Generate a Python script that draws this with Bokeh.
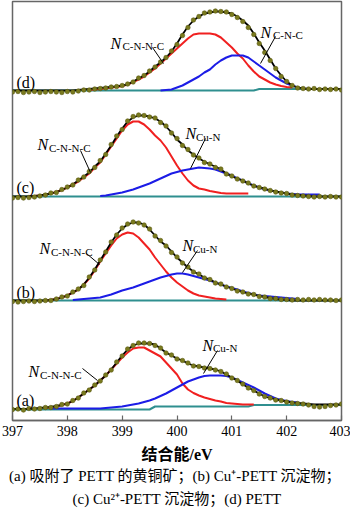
import numpy as np
from bokeh.plotting import figure
from bokeh.models import Label, Range1d, FixedTicker, ColumnDataSource, Title
from bokeh.embed import file_html
from bokeh.resources import INLINE

nan = np.nan

# ---------------- data (binding energy grid, eV) ----------------
energy = [round(397.0 + 0.1 * i, 1) for i in range(61)]
x_ticks = [397, 398, 399, 400, 401, 402, 403]

# intensities (arbitrary units) above each panel's baseline
# panel (d) PETT
dots_d = [-1.5, -1, -2, -1.5, -1, -2, -1.5, -1, -1.5, -2,
          -1, -1.5, -0.5, 0.5, 0.5, 1.5, 2, 2.5, 3.5, 4,
          5, 6.5, 8.5, 12.5, 15, 19.5, 23.5, 28.5, 33, 39.5,
          46, 55, 63, 70.5, 74, 77.5, 78.5, 79.5, 79, 78.5,
          76, 73, 69, 63, 56, 47, 38, 30, 22, 14,
          9, 5, 2.5, 2, 1.5, 2, 1, 1.5, 1, 1.5, 0.5]
fit_d = [0, 0, 0, 0, 0, 0, 0, 0, 0, 0,
         0, 0, 0.5, 1, 1.5, 2, 2.5, 3, 3.5, 4,
         5, 6, 9, 12, 15, 19, 24, 28, 33, 39,
         47, 56, 64, 70, 74, 77, 78, 79, 79, 78,
         77, 74, 70, 65, 57, 48, 40, 31, 22, 15,
         9, 5, 3, 2, 1.5, 1.5, 1.5, 1.5, 1.5, 1.5, 1.5]
cnnc_d = [nan] * 14 + [0.5, 1, 1.5, 2, 3, 3.5,
          4.5, 6, 8.5, 11, 14, 18, 22, 27, 32, 37,
          42, 47, 52, 56, 57, 57, 57, 56, 53, 48,
          43, 37, 32, 25, 19, 14, 11, 8, 6, 4.5,
          3.5, 3] + [nan] * 9
minor_d = [nan] * 27 + [0, 0.5, 1,
           3, 5, 8, 11, 14, 18, 21, 26, 30, 33,
           35, 35, 35, 33, 29, 25, 21, 17, 13, 10,
           7, 5, 3, 2, 1.5] + [nan] * 6
base_d = [0] * 45 + [1.5] * 16

# panel (c) Cu2+-PETT
dots_c = [-1.5, -1, -1.5, -1, -0.5, 0.5, 1.5, 3.5, 4, 7,
          9.5, 11.5, 16.5, 19.5, 25, 29, 36, 42, 52, 60.5,
          67, 75.5, 80, 81.5, 81, 79.5, 78.5, 74, 70.5, 63.5,
          58, 51, 47, 41.5, 38.5, 34, 32.5, 29, 27.5, 22.5,
          20.5, 17.5, 15.5, 13.5, 10.5, 9, 7.5, 6, 4.5, 3.5,
          3, 1.5, 1, 0.5, 0, -0.5, 0, -0.5, 0, -0.5, -0.5]
fit_c = [0, 0, 0, 0, 0.5, 1, 2, 3, 4.5, 6.5,
         9, 12, 16, 20, 24, 30, 35, 43, 51, 60,
         68, 75, 79, 81, 81, 80, 78, 75, 70, 64,
         57, 52, 46, 42, 38, 35, 32, 30, 27, 23,
         20, 18, 16, 13, 11, 9, 8, 6, 5, 4,
         3, 2, 1.5, 1, 0.5, 0, 0, 0, 0, 0, 0]
cnnc_c = [nan] * 3 + [0, 0.5, 1, 2, 3, 4.5, 6.5,
          9, 12, 15, 19, 23, 29, 34, 42, 50, 58,
          66, 72, 75, 75, 72, 67, 61, 56, 49, 40,
          31, 23, 16, 11, 8, 7, 5.5, 4.5, 3.5, 3,
          3, 3, 3, 3] + [nan] * 17
cun_c = [nan] * 16 + [0.5, 1, 2, 3,
         4, 5.5, 7, 9, 11, 13, 15.5, 18, 20.5, 23,
         24.5, 26, 27, 28, 29, 28.5, 28, 27, 25, 23,
         21, 18, 16, 13, 11, 9, 7, 6, 5, 4,
         3, 2.5, 2, 2, 2, 2, 2] + [nan] * 4
base_c = [0] * 61

# panel (b) Cu+-PETT
dots_b = [-1, -1.5, -1, -0.5, -1, -0.5, 0, 0, 1.5, 3.5,
          4.5, 8.5, 11.5, 15, 23.5, 30.5, 40.5, 48.5, 58.5, 65.5,
          72.5, 76.5, 78.5, 77.5, 75.5, 71.5, 64.5, 60, 54.5, 48,
          43.5, 37.5, 33.5, 28.5, 26.5, 22.5, 21, 17.5, 16.5, 13.5,
          12, 9.5, 8.5, 6.5, 6, 4, 3.5, 2, 2, 1,
          1, 0.5, 1, 0.5, 1, 0.5, 1, 0.5, 0.5, 0, 0.5]
fit_b = [0, 0, 0, 0, 0, 0, 0, 0.5, 1.5, 3,
         5, 8, 11, 16, 23, 31, 40, 49, 58, 66,
         72, 76, 78, 78, 76, 71, 65, 59, 55, 49,
         43, 38, 33, 29, 26, 23, 21, 18, 16, 14,
         12, 10, 8.5, 7, 6, 4.5, 3.5, 2.5, 1.5, 1,
         0.5, 0, 0, 0, 0, 0, 0, 0, 0, 0, 0]
cnnc_b = [nan] * 6 + [0, 0.5, 1.5, 3,
          5, 8, 11, 16, 22, 30, 39, 47, 55, 62,
          66, 68, 67, 63, 57, 51, 43, 36, 29, 23,
          18, 14, 10, 7, 5, 4, 3, 2, 1.5, 1] + [nan] * 21
cun_b = [nan] * 11 + [0.5, 1, 1.5, 2, 2.5, 3, 4.5, 6, 8,
         10, 11.5, 13, 15, 17, 19, 21, 23, 24.5, 26,
         27, 27, 26, 24.5, 23, 21.5, 20, 18, 16, 14,
         12.5, 11, 9, 7.5, 6, 5, 4.5, 4, 3.5, 3,
         2.5, 2, 1.5] + [nan] * 8
base_b = [0] * 61

# panel (a) chalcopyrite with adsorbed PETT
dots_a = [0, 0.5, -0.5, 1, 0.5, 1, 2, 2, 3, 5,
          5.5, 9, 11.5, 16.5, 19.5, 24.5, 28.5, 34.5, 39.5, 47.5,
          53.5, 60.5, 64, 66.5, 66.5, 66, 64, 61.5, 56.5, 54.5,
          50.5, 49, 46.5, 43.5, 43, 41.5, 41, 39.5, 38, 35.5,
          31.5, 29, 25.5, 21.5, 19, 15.5, 13, 11.5, 9.5, 9,
          7.5, 6.5, 6, 5.5, 4.5, 3, 2.5, 3, 4, 4.5, 5.5]
fit_a = [0.5, 0.5, 0.5, 0.5, 1, 1.5, 2, 2.5, 3.5, 4.5,
         6, 8.5, 12, 16, 20, 24, 29, 34, 40, 47,
         54, 60, 64, 66, 66, 66, 65, 61, 57, 54,
         51, 49, 46, 44, 43, 42, 41, 40, 38, 35,
         32, 29, 25, 22, 19, 16, 13, 11.5, 10, 9,
         8, 7, 6.5, 6, 5.5, 5, 5, 5, 5, 5, 5]
cnnc_a = [nan] * 6 + [1.5, 2, 3, 4.5,
          6, 8.5, 12, 16, 20, 24, 29, 34, 40, 46,
          52, 57, 61, 62, 62, 59, 56, 53, 47, 41,
          35, 26, 20, 16.5, 14, 12, 10.5, 9, 8, 6.5,
          6, 5.5, 5, 5, 5] + [nan] * 16
cun_a = [nan] * 7 + [1, 1, 1,
         1, 1, 1, 1, 1, 1, 1, 1.5, 2, 2.5,
         3, 4, 5, 6, 7.5, 9, 11, 13.5, 16, 19,
         22, 25, 28, 30, 32, 33.5, 34, 34, 34, 33.5,
         32, 29.5, 27, 24.5, 22, 19, 16, 13.5, 11, 9.5,
         8.5, 7.5, 7] + [nan] * 8
base_a = [0] * 26 + [3] * 18 + [4.5] * 17

panel_names = ["(a)", "(b)", "(c)", "(d)"]
caption_1 = "(a)  吸附了 PETT 的黄铜矿；(b) Cu⁺-PETT 沉淀物；"
caption_2 = "(c) Cu²⁺-PETT 沉淀物；(d) PETT"

# ---------------- layout constants (pixels of the 350x515 page) ----------------
FRAME_L, FRAME_R, FRAME_T, FRAME_B = 12, 341, 1, 420
panel_base_px = {"(a)": 409, "(b)": 300, "(c)": 196, "(d)": 90}
letter_base_px = {"(a)": 400, "(b)": 292, "(c)": 187, "(d)": 82}


def X(px):
    return 397 + (px - FRAME_L) / (FRAME_R - FRAME_L) * 6


def Y(px):
    return FRAME_B - px


p = figure(width=350, height=515, output_backend="svg", toolbar_location=None,
           x_range=Range1d(397, 403), y_range=Range1d(0, FRAME_B - FRAME_T),
           y_axis_location=None, min_border_left=FRAME_L, min_border_right=350 - FRAME_R,
           min_border_top=FRAME_T, min_border_bottom=515 - FRAME_B)
p.grid.visible = False
p.outline_line_color = "#666666"
p.outline_line_width = 1.5
p.background_fill_color = "white"
p.border_fill_color = "white"

ax = p.xaxis[0]
ax.ticker = FixedTicker(ticks=x_ticks)
ax.major_tick_in = 5
ax.major_tick_out = 0
ax.minor_tick_line_color = None
ax.axis_line_color = "#666666"
ax.axis_line_width = 1.5
ax.major_tick_line_color = "#666666"
ax.major_tick_line_width = 1.2
ax.major_label_text_font = "Liberation Serif"
ax.major_label_text_font_size = "14px"
ax.major_label_text_color = "black"
ax.major_label_standoff = 5
ax.axis_label = "结合能/eV"
ax.axis_label_text_font = "Liberation Serif, Noto Sans CJK SC"
ax.axis_label_text_font_style = "bold"
ax.axis_label_text_font_size = "16px"
ax.axis_label_standoff = 7
ax.axis_label_text_color = "black"

cap_font = "Liberation Serif, Noto Sans CJK SC"
for txt, so in ((caption_1, 0), (caption_2, 10)):
    p.add_layout(Title(text=txt, align="center", text_font=cap_font,
                       text_font_size="15px", text_font_style="normal",
                       text_color="black", standoff=so, offset=0), "below")

TEAL, RED, BLUE = "#2f8f8f", "#f02020", "#1c1ce6"

series = {
    "(a)": (base_a, cnnc_a, cun_a, fit_a, dots_a),
    "(b)": (base_b, cnnc_b, cun_b, fit_b, dots_b),
    "(c)": (base_c, cnnc_c, cun_c, fit_c, dots_c),
    "(d)": (base_d, cnnc_d, minor_d, fit_d, dots_d),
}
E = np.array(energy)
for name in panel_names:
    base, red, blue, fit, dots = series[name]
    off = Y(panel_base_px[name])
    p.line(E, np.array(base, float) + off, line_color=TEAL, line_width=2)
    p.line(E, np.array(red, float) + off, line_color=RED, line_width=2)
    p.line(E, np.array(blue, float) + off, line_color=BLUE, line_width=2)
    p.line(E, np.array(fit, float) + off, line_color="black", line_width=1.8)
    p.scatter(E, np.array(dots, float) + off, size=4.5, fill_color="#7a7a1e",
              line_color="#5a5a12", line_width=0.6)
    p.add_layout(Label(x=X(16), y=Y(letter_base_px[name]), text=name,
                       text_font="Liberation Serif", text_font_size="16px",
                       text_baseline="alphabetic", text_color="black"))

# peak annotations: (N left, N baseline, subscript, sub left, sub baseline, pointer)
notes = [
    (110, 42.5, "C-N-N-C", 122, 45.5, (152, 47, 163, 63)),
    (260, 32, "C-N-C", 272.5, 34.5, (275, 36, 260, 63)),
    (37, 144, "C-N-N-C", 48.5, 147, (80, 150, 90, 172)),
    (185, 132.5, "Cu-N", 195.5, 136, (205, 138, 190, 168)),
    (39, 248, "C-N-N-C", 50.5, 251, (86, 253, 99, 264)),
    (182, 244.5, "Cu-N", 192.5, 248, (197, 250, 182, 272)),
    (28, 371, "C-N-N-C", 39.5, 374.5, (82, 368, 97, 380)),
    (202, 344.5, "Cu-N", 212.5, 347, (217, 350, 203, 373)),
]
seg = dict(x0=[], y0=[], x1=[], y1=[])
for nx, nb, sub, sx, sb, (x0, y0, x1, y1) in notes:
    p.add_layout(Label(x=X(nx), y=Y(nb), text="N", text_font="Liberation Serif",
                       text_font_style="italic", text_font_size="16px",
                       text_baseline="alphabetic", text_color="black"))
    p.add_layout(Label(x=X(sx), y=Y(sb), text=sub, text_font="Liberation Serif",
                       text_font_size="11px", text_baseline="alphabetic",
                       text_color="black"))
    seg["x0"].append(X(x0)); seg["y0"].append(Y(y0))
    seg["x1"].append(X(x1)); seg["y1"].append(Y(y1))
p.segment("x0", "y0", "x1", "y1", source=ColumnDataSource(seg),
          line_color="black", line_width=1)

open("out.html", "w").write(file_html(p, INLINE))
